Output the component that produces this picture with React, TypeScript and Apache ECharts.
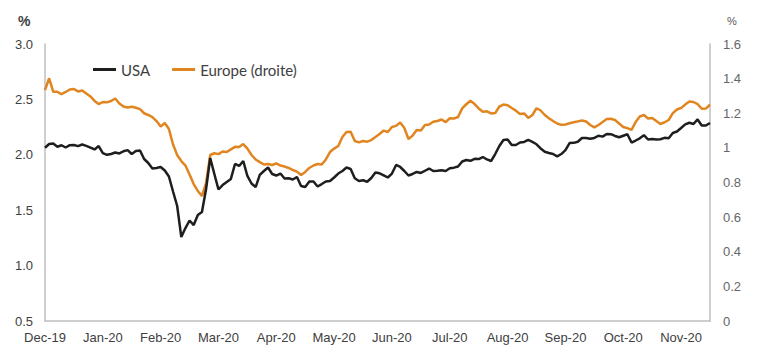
import React, { useEffect, useRef } from "react";
import * as echarts from "echarts";

const monthLabels = ["Dec-19", "Jan-20", "Feb-20", "Mar-20", "Apr-20", "May-20", "Jun-20", "Jul-20", "Aug-20", "Sep-20", "Oct-20", "Nov-20"];
const pointsPerMonth = 14;

const usa = [
  2.064, 2.097, 2.102, 2.073, 2.086, 2.066, 2.087, 2.088, 2.078, 2.093,
  2.081, 2.065, 2.048, 2.079, 2.016, 2.000, 2.007, 2.021, 2.012, 2.032,
  2.042, 2.007, 2.034, 2.039, 1.962, 1.926, 1.876, 1.881, 1.890, 1.858,
  1.804, 1.669, 1.538, 1.258, 1.339, 1.407, 1.366, 1.457, 1.484, 1.691,
  1.971, 1.827, 1.687, 1.727, 1.755, 1.782, 1.917, 1.899, 1.944, 1.809,
  1.741, 1.709, 1.818, 1.854, 1.885, 1.827, 1.813, 1.831, 1.786, 1.788,
  1.777, 1.800, 1.718, 1.709, 1.759, 1.759, 1.714, 1.736, 1.759, 1.764,
  1.795, 1.831, 1.854, 1.885, 1.872, 1.788, 1.764, 1.770, 1.757, 1.791,
  1.840, 1.833, 1.815, 1.795, 1.831, 1.908, 1.890, 1.854, 1.813, 1.827,
  1.845, 1.836, 1.856, 1.876, 1.854, 1.856, 1.860, 1.854, 1.878, 1.884,
  1.894, 1.940, 1.953, 1.946, 1.964, 1.962, 1.980, 1.958, 1.944, 2.007,
  2.079, 2.134, 2.138, 2.088, 2.088, 2.111, 2.116, 2.134, 2.116, 2.095,
  2.057, 2.027, 2.016, 2.007, 1.986, 2.007, 2.043, 2.106, 2.108, 2.118,
  2.152, 2.152, 2.144, 2.152, 2.172, 2.164, 2.188, 2.186, 2.170, 2.158,
  2.172, 2.185, 2.111, 2.129, 2.149, 2.177, 2.138, 2.143, 2.138, 2.140,
  2.153, 2.150, 2.197, 2.210, 2.242, 2.275, 2.289, 2.278, 2.319, 2.264,
  2.264, 2.287,
];

const europe = [
  1.334, 1.402, 1.324, 1.324, 1.311, 1.323, 1.337, 1.340, 1.326, 1.331,
  1.314, 1.297, 1.271, 1.253, 1.265, 1.263, 1.271, 1.285, 1.256, 1.239,
  1.233, 1.238, 1.232, 1.224, 1.200, 1.190, 1.178, 1.155, 1.123, 1.144,
  1.109, 1.019, 0.959, 0.924, 0.898, 0.846, 0.791, 0.751, 0.722, 0.797,
  0.959, 0.969, 0.964, 0.979, 0.976, 0.991, 1.006, 1.005, 1.022, 0.996,
  0.959, 0.933, 0.918, 0.904, 0.907, 0.901, 0.910, 0.898, 0.892, 0.884,
  0.872, 0.863, 0.843, 0.861, 0.884, 0.898, 0.907, 0.904, 0.933, 0.976,
  0.996, 1.011, 1.063, 1.092, 1.093, 1.040, 1.032, 1.040, 1.036, 1.045,
  1.063, 1.080, 1.100, 1.092, 1.121, 1.127, 1.147, 1.115, 1.051, 1.071,
  1.103, 1.100, 1.132, 1.135, 1.151, 1.155, 1.164, 1.149, 1.171, 1.170,
  1.178, 1.228, 1.252, 1.272, 1.253, 1.228, 1.209, 1.211, 1.199, 1.201,
  1.239, 1.250, 1.246, 1.230, 1.215, 1.196, 1.199, 1.173, 1.190, 1.229,
  1.216, 1.190, 1.171, 1.155, 1.141, 1.133, 1.135, 1.142, 1.148, 1.153,
  1.158, 1.152, 1.132, 1.118, 1.132, 1.149, 1.167, 1.168, 1.161, 1.141,
  1.121, 1.114, 1.104, 1.149, 1.181, 1.190, 1.170, 1.173, 1.155, 1.138,
  1.148, 1.161, 1.201, 1.222, 1.230, 1.250, 1.268, 1.265, 1.253, 1.226,
  1.227, 1.250,
];

const seriesNames = ["USA", "Europe (droite)"];

export default function App() {
  const ref = useRef<HTMLDivElement>(null);
  useEffect(() => {
    if (!ref.current) return;
    document.body.style.margin = "0";
    const chart = echarts.init(ref.current, null, { renderer: "svg" });
    const categories = usa.map((_, i) =>
      i % pointsPerMonth === 0 ? monthLabels[i / pointsPerMonth] ?? "" : ""
    );
    const axisFont = "'Liberation Sans', Arial, sans-serif";
    chart.setOption({
      animation: false,
      grid: { left: 45, right: 51, top: 44, bottom: 34, containLabel: false },
      legend: {
        data: seriesNames,
        left: 88,
        top: 57,
        icon: "rect",
        itemWidth: 23,
        itemHeight: 3,
        itemGap: 22,
        textStyle: { fontFamily: "Lato, 'Open Sans', sans-serif", fontSize: 15, color: "#404040" },
      },
      graphic: [
        { type: "text", left: 18, top: 14, style: { text: "%", fontFamily: axisFont, fontSize: 14, fontWeight: "bold", fill: "#404040" } },
        { type: "text", left: 727, top: 15, style: { text: "%", fontFamily: axisFont, fontSize: 11, fill: "#595959" } },
      ],
      xAxis: {
        type: "category",
        data: categories,
        boundaryGap: false,
        axisLine: { show: true, lineStyle: { color: "#bfbfbf", width: 1.5 } },
        axisTick: { show: false },
        axisLabel: {
          interval: pointsPerMonth - 1,
          color: "#404040",
          fontFamily: axisFont,
          fontSize: 13,
          margin: 10,
        },
        splitLine: { show: false },
      },
      yAxis: [
        {
          type: "value",
          min: 0.5,
          max: 3.0,
          interval: 0.5,
          position: "left",
          axisLine: { show: true, lineStyle: { color: "#bfbfbf", width: 1.5 } },
          axisTick: { show: false },
          splitLine: { show: false },
          axisLabel: {
            color: "#404040",
            fontFamily: axisFont,
            fontSize: 13,
            margin: 12,
            formatter: (v: number) => v.toFixed(1),
          },
        },
        {
          type: "value",
          min: 0,
          max: 1.6,
          interval: 0.2,
          position: "right",
          axisLine: { show: true, lineStyle: { color: "#bfbfbf", width: 1.5 } },
          axisTick: { show: false },
          splitLine: { show: false },
          axisLabel: {
            color: "#666666",
            fontFamily: axisFont,
            fontSize: 13,
            margin: 13,
            formatter: (v: number) => String(Number(v.toFixed(1))),
          },
        },
      ],
      series: [
        {
          name: seriesNames[0],
          type: "line",
          data: usa,
          yAxisIndex: 0,
          symbol: "none",
          lineStyle: { color: "#1e1e1e", width: 2.5 },
          itemStyle: { color: "#1e1e1e" },
          z: 3,
        },
        {
          name: seriesNames[1],
          type: "line",
          data: europe,
          yAxisIndex: 1,
          symbol: "none",
          lineStyle: { color: "#E0851F", width: 2.5 },
          itemStyle: { color: "#E0851F" },
          z: 2,
        },
      ],
    });
    return () => chart.dispose();
  }, []);
  return <div ref={ref} style={{ width: 761, height: 355 }} />;
}
